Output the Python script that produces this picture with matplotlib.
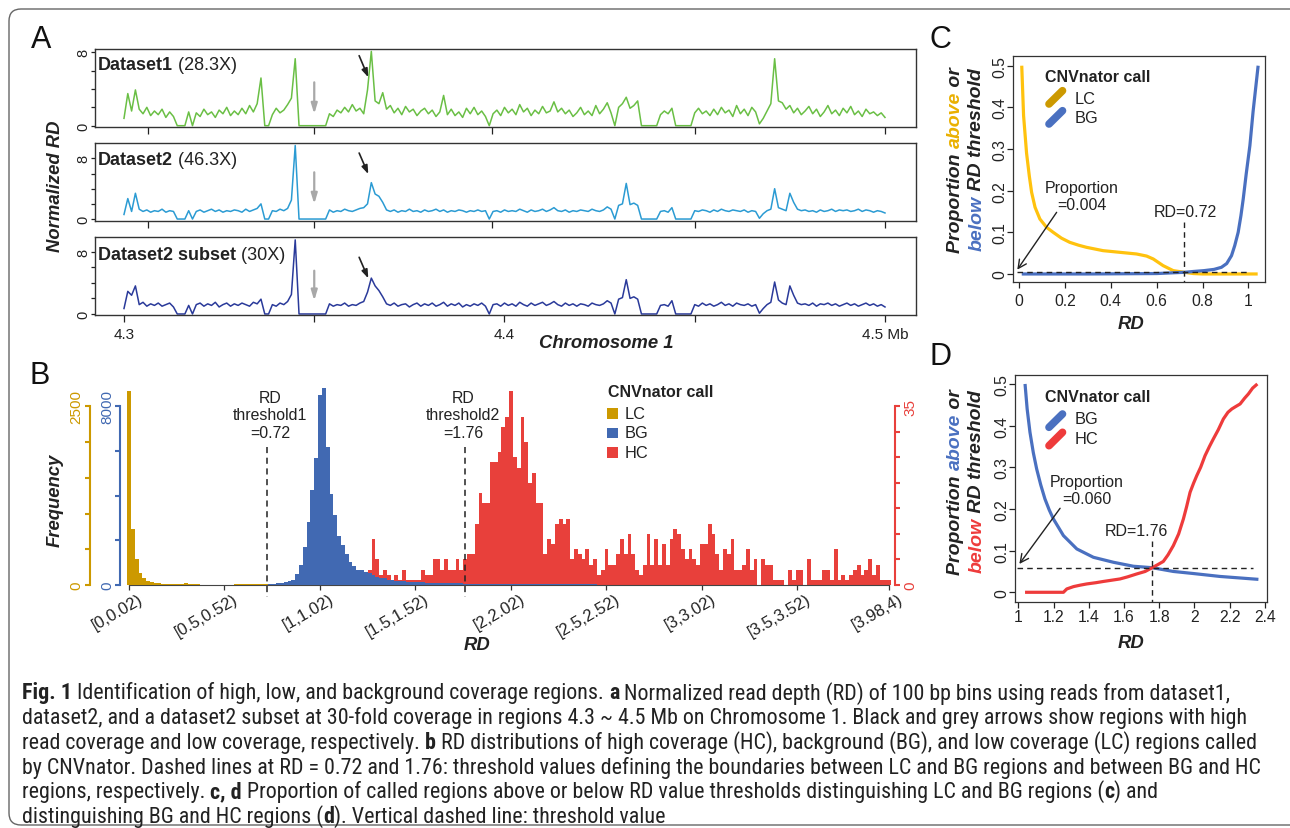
#!/usr/bin/python3
import numpy as np
import matplotlib
matplotlib.use("Agg")
import matplotlib.pyplot as plt
from matplotlib import font_manager
from matplotlib.patches import Rectangle, FancyBboxPatch
from matplotlib.lines import Line2D
from matplotlib.transforms import ScaledTranslation, IdentityTransform

##############################################################
# panel A : normalized RD on chr1 4.3-4.5 Mb (1 kb steps)
##############################################################
MB_START = 4.3
MB_STEP = 0.001
RD_DATASET1 = [
    0.8, 3.5, 1.6, 3.9, 1.8, 1.3, 2.0, 1.1, 1.6, 1.2,
    1.8, 0.9, 1.5, 1.0, 0, 0, 0, 1.5, 0, 1.4,
    1.0, 1.8, 1.2, 1.5, 0.9, 1.7, 1.3, 2.0, 1.1, 1.6,
    1.2, 1.9, 1.3, 2.2, 1.5, 2.4, 5.2, 0, 0, 1.2,
    1.9, 1.4, 1.7, 2.3, 3.0, 7.3, 0, 0, 0, 0,
    0, 0, 0, 0, 1.3, 1.0, 1.7, 1.4, 2.0, 1.5,
    2.3, 1.6, 1.9, 1.3, 3.9, 8.1, 2.7, 2.4, 3.6, 1.8,
    2.2, 1.4, 1.9, 1.2, 2.1, 1.5, 1.8, 1.1, 1.6, 1.9,
    1.3, 1.7, 1.0, 1.5, 3.3, 1.2, 1.8, 1.1, 1.5, 0.9,
    1.9, 1.3, 2.0, 1.2, 1.6, 1.0, 0, 1.3, 1.7, 1.1,
    2.0, 1.4, 1.8, 1.2, 2.3, 1.5, 1.9, 1.1, 1.7, 1.3,
    2.1, 1.4, 1.6, 2.6, 1.5, 1.9, 1.3, 1.7, 1.0, 1.4,
    2.0, 1.2, 1.6, 1.1, 2.2, 1.3, 1.8, 2.5, 1.4, 0,
    2.0, 2.4, 3.1, 1.9, 2.2, 2.7, 0, 0, 0, 0,
    0, 1.2, 1.6, 1.3, 1.9, 0, 0, 0, 0, 0,
    1.4, 1.9, 1.3, 1.6, 1.1, 1.8, 1.2, 2.0, 1.4, 1.7,
    1.0, 2.2, 1.3, 1.8, 1.1, 2.0, 1.5, 0.2, 0.8, 1.6,
    2.4, 7.3, 2.7, 2.5, 1.8, 2.2, 1.4, 1.9, 1.2, 1.6,
    2.1, 1.3, 1.8, 1.0, 1.5, 2.2, 1.3, 1.7, 1.1, 1.9,
    1.4, 2.1, 1.2, 1.6, 1.0, 1.8, 1.3, 1.5, 1.1, 1.4,
    0.9]
RD_DATASET2 = [
    0.6, 2.7, 1.0, 3.4, 1.3, 1.0, 1.2, 0.9, 1.1, 1.0,
    1.3, 0.9, 1.1, 1.0, 0, 0, 0, 1.1, 0, 1.0,
    1.2, 0.9, 1.1, 1.3, 1.0, 1.2, 0.9, 1.1, 1.0, 1.2,
    1.1, 0.9, 1.3, 1.0, 1.2, 1.4, 2.0, 0, 0, 1.1,
    1.0, 1.3, 1.1, 1.4, 2.5, 9.7, 0, 0, 0, 0,
    0, 0, 0, 0, 1.2, 0.9, 1.1, 1.0, 1.3, 1.1,
    1.0, 1.2, 1.4, 1.5, 2.0, 4.8, 3.3, 3.0, 2.2, 1.2,
    1.0, 1.2, 0.9, 1.1, 1.0, 1.3, 1.0, 1.1, 0.9, 1.2,
    1.0, 1.1, 1.3, 1.0, 1.2, 0.9, 1.1, 1.0, 1.2, 1.1,
    0.9, 1.1, 1.0, 1.2, 1.0, 1.1, 0, 1.0, 1.1, 0.9,
    1.2, 1.0, 1.1, 1.0, 1.3, 1.1, 0.9, 1.2, 1.0, 1.1,
    1.3, 1.0, 1.2, 1.5, 1.1, 1.0, 1.2, 0.9, 1.1, 1.0,
    1.2, 1.1, 1.0, 1.3, 1.1, 1.0, 1.2, 1.6, 1.3, 0,
    1.8, 2.0, 4.7, 1.9, 2.1, 1.8, 0, 0, 0, 0,
    0, 1.0, 1.1, 0.9, 1.5, 0, 0, 0, 0, 0,
    1.1, 1.0, 1.2, 1.1, 0.9, 1.2, 1.0, 1.3, 1.1, 1.0,
    1.2, 1.1, 1.0, 1.2, 0.9, 1.1, 1.0, 0.1, 0.7, 1.1,
    1.3, 4.0, 1.5, 1.3, 1.1, 3.4, 2.2, 1.3, 1.1, 1.2,
    1.0, 1.1, 0.9, 1.2, 1.0, 1.1, 1.3, 1.0, 1.2, 1.1,
    1.2, 1.0, 1.1, 1.3, 1.0, 1.2, 1.1, 0.9, 1.1, 1.0,
    0.8]
RD_SUBSET = [
    0.7, 2.9, 2.4, 3.6, 1.2, 1.5, 1.0, 1.3, 1.1, 1.4,
    1.0, 1.2, 1.4, 0.9, 0, 0, 0, 1.1, 0, 1.2,
    1.4, 1.0, 1.3, 1.1, 1.5, 0.9, 1.2, 1.4, 1.0, 1.3,
    1.1, 1.4, 1.2, 1.0, 1.5, 1.3, 1.9, 0, 0, 1.2,
    1.0, 1.4, 1.2, 1.6, 2.5, 9.5, 0, 0, 0, 0,
    0, 0, 0, 0, 1.3, 1.0, 1.2, 1.1, 1.4, 1.0,
    1.2, 1.1, 1.4, 1.6, 2.8, 4.6, 3.6, 3.0, 2.2, 1.3,
    1.1, 1.4, 1.0, 1.2, 1.3, 0.9, 1.2, 1.4, 1.0, 1.3,
    1.1, 1.4, 1.0, 1.2, 1.5, 1.0, 1.3, 1.1, 1.4, 0.9,
    1.2, 1.0, 1.3, 1.1, 1.4, 1.0, 0, 1.2, 1.3, 1.0,
    1.4, 1.1, 1.3, 1.0, 1.5, 1.2, 1.0, 1.4, 1.1, 1.3,
    1.5, 1.1, 1.3, 1.6, 1.2, 1.0, 1.4, 1.1, 1.3, 1.0,
    1.3, 1.2, 1.0, 1.4, 1.2, 1.1, 1.3, 1.7, 1.4, 0,
    1.9, 2.1, 4.4, 2.0, 2.2, 1.9, 0, 0, 0, 0,
    0, 1.1, 1.2, 1.0, 1.7, 0, 0, 0, 0, 0,
    1.2, 1.0, 1.4, 1.1, 1.3, 1.0, 1.2, 1.5, 1.1, 1.3,
    1.0, 1.4, 1.2, 1.1, 1.3, 1.0, 1.2, 0.1, 0.7, 1.2,
    1.5, 4.1, 1.8, 1.4, 1.2, 3.6, 2.4, 1.4, 1.2, 1.3,
    1.1, 1.4, 1.0, 1.3, 1.2, 1.4, 1.1, 1.3, 1.0, 1.2,
    1.4, 1.1, 1.3, 1.0, 1.2, 1.4, 1.1, 1.3, 1.0, 1.2,
    0.9]
TRACK_NAMES = ["Dataset1", "Dataset2", "Dataset2 subset"]
TRACK_DEPTH = [" (28.3X)", " (46.3X)", " (30X)"]

##############################################################
# panel B : RD histograms (bins of 0.02), bin index 0..199
##############################################################
BIN_TICKS = [0, 25, 50, 75, 100, 125, 150, 175, 199]
BIN_TICK_LABELS = ["[0,0.02)", "[0.5,0.52)", "[1,1.02)", "[1.5,1.52)", "[2,2.02)",
                   "[2.5,2.52)", "[3,3.02)", "[3.5,3.52)", "[3.98,4)"]
BIN_WIDTH = 0.02
THRESHOLDS = [0.72, 1.76]
LC_START = 0
LC_COUNTS = [
    2712, 783, 364, 168, 94, 56, 38, 28, 22, 18,
    15, 15, 12, 12, 10, 30, 10, 8, 8, 6,
    5, 5, 5, 5, 5, 5, 6, 6, 8, 10,
    12, 14, 15, 15, 15, 14, 12]
BG_START = 37
BG_COUNTS = [
    30, 45, 75, 90, 120, 165, 225, 480, 895, 1700,
    2805, 4240, 5690, 8520, 8820, 6200, 4070, 3140, 2200, 1800,
    1390, 1015, 865, 672, 670, 597, 537, 463, 373, 328,
    298, 240, 210, 180, 165, 165, 150, 150, 135, 120,
    115, 110, 105, 100, 95, 90, 90, 85, 80, 75,
    70, 65, 60, 60, 55, 50, 50, 45, 45, 40,
    40, 38, 36, 35, 34, 33, 32, 31, 30, 30,
    29, 28, 28, 27, 27, 26, 26, 25, 25, 25,
    24, 24, 24, 23, 23, 23, 22, 22, 22, 22,
    21, 21, 21, 21, 20, 20, 20, 20, 20, 20,
    20, 20, 20, 20, 20, 20, 20, 20, 20, 20,
    20, 20, 20, 20, 20, 20, 20, 20, 20, 20,
    20, 20, 20, 20, 20, 20, 20, 20, 20, 20,
    20, 20, 20, 20, 20, 20, 20, 20, 20, 20,
    20, 20, 20, 20, 20, 20, 20, 20, 20, 20,
    20, 20, 20, 20, 20, 20, 20, 20, 20, 20,
    20, 20, 20]
HC_START = 63
HC_COUNTS = [
    3, 9, 5, 2, 3, 2, 1, 2, 1, 3,
    1, 1, 1, 1, 3, 2, 2, 5, 5, 3,
    5, 3, 3, 5, 3, 5, 6, 6, 12, 18,
    16, 16, 24, 24, 26, 31, 33, 38, 25, 23,
    33, 28, 20, 22, 16, 16, 6, 9, 8, 12,
    13, 12, 13, 5, 7, 6, 5, 7, 4, 5,
    2, 3, 7, 4, 4, 6, 9, 6, 10, 6,
    3, 2, 4, 10, 4, 9, 4, 8, 4, 9,
    11, 10, 7, 5, 7, 5, 4, 8, 8, 12,
    10, 6, 3, 7, 6, 9, 3, 3, 4, 7,
    3, 5, 0, 5, 4, 4, 1, 1, 1, 0,
    3, 1, 3, 3, 0, 5, 1, 1, 1, 3,
    3, 1, 7, 1, 2, 1, 2, 3, 4, 2,
    3, 5, 2, 4, 1, 1, 1]

##############################################################
# panel C : proportion above (LC) / below (BG) RD threshold
##############################################################
C_LC_RD = [0.012, 0.02, 0.033, 0.045, 0.055, 0.07, 0.091, 0.12, 0.149, 0.185, 0.221, 0.26,
           0.294, 0.366, 0.439, 0.512, 0.556, 0.585, 0.628, 0.672, 0.72, 0.76, 0.8, 1.04]
C_LC_PROP = [0.5, 0.38, 0.29, 0.235, 0.196, 0.16, 0.132, 0.112, 0.1, 0.086, 0.076, 0.069,
             0.064, 0.056, 0.052, 0.048, 0.043, 0.036, 0.02, 0.008, 0.004, 0.001, 0.0, 0.0]
C_BG_RD = [0.012, 0.3, 0.6, 0.72, 0.76, 0.806, 0.85, 0.882, 0.905, 0.926, 0.94, 0.955,
           0.967, 0.977, 0.99, 1.006, 1.02, 1.042]
C_BG_PROP = [0.0, 0.0, 0.001, 0.004, 0.006, 0.008, 0.011, 0.016, 0.025, 0.044, 0.068, 0.1,
             0.14, 0.18, 0.24, 0.308, 0.39, 0.5]

##############################################################
# panel D : proportion above (BG) / below (HC) RD threshold
##############################################################
D_BG_RD = [1.038, 1.05, 1.066, 1.085, 1.104, 1.127, 1.151, 1.175, 1.199, 1.256, 1.332,
           1.426, 1.54, 1.653, 1.76, 1.88, 1.994, 2.145, 2.363]
D_BG_PROP = [0.5, 0.44, 0.384, 0.335, 0.296, 0.258, 0.224, 0.198, 0.176, 0.136, 0.104,
             0.084, 0.072, 0.0625, 0.059, 0.05, 0.045, 0.038, 0.031]
D_HC_RD = [1.038, 1.256, 1.275, 1.313, 1.35, 1.388, 1.44, 1.483, 1.53, 1.577, 1.62, 1.672,
           1.72, 1.76, 1.79, 1.823, 1.85, 1.88, 1.91, 1.937, 1.955, 1.975, 1.995, 2.013,
           2.035, 2.06, 2.085, 2.107, 2.135, 2.164, 2.19, 2.212, 2.235, 2.259, 2.285,
           2.306, 2.33, 2.357]
D_HC_PROP = [0.0, 0.0, 0.008, 0.0136, 0.017, 0.02, 0.023, 0.026, 0.029, 0.032, 0.037, 0.044,
             0.05, 0.059, 0.066, 0.074, 0.09, 0.112, 0.14, 0.176, 0.205, 0.24, 0.262, 0.28,
             0.3, 0.328, 0.35, 0.368, 0.39, 0.416, 0.432, 0.44, 0.446, 0.452, 0.466,
             0.476, 0.49, 0.5]

# colours
GREEN = "#6abf45"
LBLUE = "#2b9bd3"
DBLUE = "#2a3a9a"
LC_GOLD = "#cc9900"
BG_BLUE = "#4169b2"
HC_RED = "#e8403b"
C_YELLOW = "#ffc20e"
CURVE_BLUE = "#4a70c0"
CURVE_RED = "#ee3b3b"
INK = "#222222"

W, H = 1290, 829
plt.rcParams['font.family'] = ['Liberation Sans', 'DejaVu Sans']
fig = plt.figure(figsize=(W / 100, H / 100), dpi=100)
renderer = fig.canvas.get_renderer()


def box(l, t, r, b):
    return [l / W, 1 - b / H, (r - l) / W, (b - t) / H]


def ftext(x, y, s, **kw):
    return fig.text(x / W, 1 - y / H, s, **kw)


def advance(s, size, fam, st):
    t = fig.text(0, 0, s + "x", fontsize=size, family=fam,
                 fontweight=st.get('weight', 'normal'), fontstyle=st.get('style', 'normal'))
    w1 = t.get_window_extent(renderer).width
    t.set_text("x")
    w2 = t.get_window_extent(renderer).width
    t.remove()
    return w1 - w2


def rich(x, y, parts, size, rot=0, center=False, va='baseline', fam=None, measure=False):
    fam = fam or plt.rcParams['font.family']
    advs = [advance(s, size, fam, st) for s, st in parts]
    total = sum(advs)
    if measure:
        return total
    pos = -total / 2 if center else 0
    for (s, st), a in zip(parts, advs):
        if rot == 0:
            px, py = x + pos, y
        else:
            px, py = x, y - pos
        ftext(px, py, s, fontsize=size, family=fam, rotation=rot, rotation_mode='anchor',
              ha='left', va=va, color=st.get('color', INK),
              fontweight=st.get('weight', 'normal'), fontstyle=st.get('style', 'normal'))
        pos += a
    return total


BI = dict(weight='bold', style='italic')

# frame round everything
frame = FancyBboxPatch((9, H - 826), 1300, 816, boxstyle='round,pad=0,rounding_size=12',
                       transform=IdentityTransform(), fill=False, ec='#666666', lw=1.0)
fig.add_artist(frame)

##############################################################
# panel A
##############################################################
a_boxes = [(50, 127.7), (144, 221.7), (238, 316)]
a_ylims = [(-0.11, 8.36), (-0.22, 10.03), (-0.13, 9.87)]
a_xticks = [[4.3063, 4.35, 4.3967, 4.45, 4.5], [4.3063, 4.35, 4.3967, 4.45, 4.5],
            [4.3, 4.35, 4.4, 4.45, 4.5]]
a_label_y = [65, 160, 255]
grey_arrow = [(0.571, 0.163), (0.623, 0.215), (0.568, 0.183)]
black_arrow = [(0.914, 0.636), (0.871, 0.6), (0.74, 0.47)]
tracks = [RD_DATASET1, RD_DATASET2, RD_SUBSET]
colors = [GREEN, LBLUE, DBLUE]

for k in range(3):
    top, bot = a_boxes[k]
    ax = fig.add_axes(box(95, top, 916, bot))
    vals = np.array(tracks[k])
    mb = MB_START + MB_STEP * np.arange(len(vals))
    ax.plot(mb, vals, color=colors[k], lw=1.1)
    ax.set_xlim(4.29238, 4.50815)
    ax.set_ylim(*a_ylims[k])
    for sp in ax.spines.values():
        sp.set_linewidth(1.0)
        sp.set_color('#333333')
    ax.set_yticks([0, 2, 4, 6, 8])
    ax.set_yticklabels(['0', '', '', '', '8'])
    ax.tick_params(axis='y', direction='out', length=3, width=0.9, pad=0.5,
                   labelsize=10.5, labelrotation=90, colors=INK)
    for lab in ax.get_yticklabels():
        lab.set_va('center')
    ax.set_xticks(a_xticks[k])
    if k == 2:
        ax.set_xticklabels(['4.3', '', '4.4', '', '4.5 Mb'])
    else:
        ax.set_xticklabels([])
    ax.tick_params(axis='x', direction='out', length=5, width=0.9, pad=3.6,
                   labelsize=11, colors=INK)
    tr = ax.get_xaxis_transform()
    g0, g1 = grey_arrow[k]
    ax.annotate('', xy=(4.35, g1), xytext=(4.35, g0), xycoords=tr, textcoords=tr,
                arrowprops=dict(arrowstyle='-|>,head_length=0.6,head_width=0.18',
                                color='#a8a8a8', lw=1.6, shrinkA=0, shrinkB=0))
    b0, b1 = black_arrow[k]
    ax.annotate('', xy=(4.3642, b1), xytext=(4.3618, b0), xycoords=tr, textcoords=tr,
                arrowprops=dict(arrowstyle='-|>,head_length=0.5,head_width=0.18',
                                color=INK, lw=1.2, shrinkA=0, shrinkB=0))
    rich(98, a_label_y[k] + 5, [(TRACK_NAMES[k], dict(weight='bold')), (TRACK_DEPTH[k], {})], 13)

ftext(55.5, 186, "Normalized RD", rotation=90, ha='center', va='center', fontsize=13.3,
      fontweight='bold', fontstyle='italic', color=INK)
ftext(606, 343, "Chromosome 1", ha='center', va='center', fontsize=13.3,
      fontweight='bold', fontstyle='italic', color=INK)

##############################################################
# panel B
##############################################################
ax_hc = fig.add_axes(box(126.7, 385, 894.9, 586))
ax_hc.bar(HC_START + np.arange(len(HC_COUNTS)), HC_COUNTS, width=1.0, color=HC_RED, lw=0)
ax_bg = ax_hc.twinx()
ax_bg.bar(BG_START + np.arange(len(BG_COUNTS)), BG_COUNTS, width=1.0, color=BG_BLUE, lw=0)
ax_lc = ax_hc.twinx()
ax_lc.bar(LC_START + np.arange(len(LC_COUNTS)), LC_COUNTS, width=1.0, color=LC_GOLD, lw=0)
ax_hc.set_xlim(-0.6, 200.5)
ax_hc.set_ylim(0, 39.37)
ax_bg.set_ylim(0, 8998)
ax_lc.set_ylim(0, 2812)

ax_hc.yaxis.tick_right()
ax_bg.yaxis.tick_left()
ax_lc.yaxis.tick_left()
for a in (ax_hc, ax_bg, ax_lc):
    a.spines['top'].set_visible(False)
ax_hc.spines['left'].set_visible(False)
for a in (ax_bg, ax_lc):
    a.spines['right'].set_visible(False)
    a.spines['bottom'].set_visible(False)

ax_hc.spines['right'].set_color(HC_RED)
ax_hc.spines['right'].set_linewidth(1.5)
ax_hc.spines['right'].set_bounds(0, 35)
ax_hc.set_yticks(range(0, 36, 5))
ax_hc.set_yticklabels(['0', '', '', '', '', '', '', '35'])
ax_hc.tick_params(axis='y', colors=HC_RED, length=3.6, width=1.5, pad=2.6,
                  labelsize=11, labelrotation=90)

ax_bg.spines['left'].set_color(BG_BLUE)
ax_bg.spines['left'].set_linewidth(1.5)
ax_bg.spines['left'].set_position(('outward', 4.8))
ax_bg.spines['left'].set_bounds(0, 8000)
ax_bg.set_yticks(range(0, 8001, 2000))
ax_bg.set_yticklabels(['0', '', '', '', '8000'])
ax_bg.tick_params(axis='y', colors=BG_BLUE, length=3.6, width=1.5, pad=0.3,
                  labelsize=11, labelrotation=90)

ax_lc.spines['left'].set_color(LC_GOLD)
ax_lc.spines['left'].set_linewidth(1.5)
ax_lc.spines['left'].set_position(('outward', 26.4))
ax_lc.spines['left'].set_bounds(0, 2500)
ax_lc.set_yticks(range(0, 2501, 500))
ax_lc.set_yticklabels(['0', '', '', '', '', '2500'])
ax_lc.tick_params(axis='y', colors=LC_GOLD, length=3.6, width=1.5, pad=1.4,
                  labelsize=11, labelrotation=90)
for a in (ax_hc, ax_bg, ax_lc):
    for lab in a.get_yticklabels():
        lab.set_va('center')

ax_hc.spines['bottom'].set_bounds(0, 199)
ax_hc.spines['bottom'].set_color('#444444')
ax_hc.spines['bottom'].set_linewidth(0.8)
ax_hc.set_xticks(BIN_TICKS)
ax_hc.set_xticklabels([])
ax_hc.tick_params(axis='x', length=3.6, width=0.9, colors='#333333')
lab_tr = ax_hc.get_xaxis_transform() + ScaledTranslation(0.09, -0.06, fig.dpi_scale_trans)
for b, lab in zip(BIN_TICKS, BIN_TICK_LABELS):
    ax_hc.text(b, 0, lab, transform=lab_tr, rotation=30, rotation_mode='anchor',
               ha='right', va='top', fontsize=12, color=INK)

thr_text = ["RD\nthreshold1\n=0.72", "RD\nthreshold2\n=1.76"]
thr_dx = [0.9, -0.6]
for thr, txt, dx in zip(THRESHOLDS, thr_text, thr_dx):
    xb = thr / BIN_WIDTH
    ax_lc.plot([xb, xb], [0.687, -0.06], transform=ax_lc.get_xaxis_transform(),
               color=INK, lw=1.1, ls=(0, (4, 3)), clip_on=False)
    ax_lc.text(xb + dx, 0.846, txt, transform=ax_lc.get_xaxis_transform(), ha='center',
               va='center', fontsize=11.4, linespacing=1.2, color=INK)

ftext(55.5, 500.7, "Frequency", rotation=90, ha='center', va='center', fontsize=13.3,
      fontweight='bold', fontstyle='italic', color=INK)
ftext(477, 645, "RD", ha='center', va='center', fontsize=13.3, fontweight='bold',
      fontstyle='italic', color=INK)

ftext(607.7, 393, "CNVnator call", ha='left', va='center', fontsize=11.5,
      fontweight='bold', color=INK)
for name, col, yc in zip(["LC", "BG", "HC"], [LC_GOLD, BG_BLUE, HC_RED], [414.3, 434, 453.5]):
    fig.add_artist(Rectangle(((606.7) / W, 1 - (yc + 5.3) / H), 10.8 / W, 10.6 / H,
                             transform=fig.transFigure, color=col, lw=0))
    ftext(624.3, yc, name, ha='left', va='center', fontsize=11.8, color=INK)

##############################################################
# panels C and D
##############################################################


def curve_axes(l, t, r, b, xlim, ylim, xticks, xlabs, xpad):
    ax = fig.add_axes(box(l, t, r, b))
    ax.set_xlim(*xlim)
    ax.set_ylim(*ylim)
    for sp in ax.spines.values():
        sp.set_linewidth(0.9)
        sp.set_color('#333333')
    ax.set_xticks(xticks)
    ax.set_xticklabels(xlabs)
    ax.set_yticks([0, 0.1, 0.2, 0.3, 0.4, 0.5])
    ax.set_yticklabels(['0', '0.1', '0.2', '0.3', '0.4', '0.5'])
    ax.tick_params(axis='x', direction='out', length=4, width=0.9, pad=xpad,
                   labelsize=11.3, colors=INK)
    ax.tick_params(axis='y', direction='out', length=4, width=0.9, pad=0.3,
                   labelsize=11.3, labelrotation=90, colors=INK)
    for lab in ax.get_yticklabels():
        lab.set_va('center')
    return ax


ax_c = curve_axes(1013.3, 56.7, 1265, 283.3, (-0.0248, 1.0719), (-0.02, 0.524),
                  [0, 0.2, 0.4, 0.6, 0.8, 1], ['0', '0.2', '0.4', '0.6', '0.8', '1'], 3.6)
ax_c.plot(C_LC_RD, C_LC_PROP, color=C_YELLOW, lw=2.3, solid_capstyle='butt')
ax_c.plot(C_BG_RD, C_BG_PROP, color=CURVE_BLUE, lw=2.3, solid_capstyle='butt')
ax_c.plot([-0.01, 1.0], [0.004, 0.004], color=INK, lw=1.0, ls=(0, (4, 3)))
ax_c.plot([THRESHOLDS[0], THRESHOLDS[0]], [0.124, -0.02], color=INK, lw=1.0, ls=(0, (4, 3)))
ax_c.text(0.273, 0.188, "Proportion\n=0.004", ha='center', va='center', fontsize=11.5,
          linespacing=1.15, color=INK)
ax_c.text(0.723, 0.15, "RD=0.72", ha='center', va='center', fontsize=11.5, color=INK)
ax_c.annotate('', xy=(-0.0074, 0.0103), xytext=(0.164, 0.148),
              arrowprops=dict(arrowstyle='->,head_length=0.6,head_width=0.3', color=INK,
                              lw=1.0, shrinkA=0, shrinkB=0))

ax_d = curve_axes(1015, 376, 1266.7, 602.7, (0.981, 2.41), (-0.0226, 0.5215),
                  [1, 1.2, 1.4, 1.6, 1.8, 2, 2.2, 2.4],
                  ['1', '1.2', '1.4', '1.6', '1.8', '2', '2.2', '2.4'], 1.0)
ax_d.plot(D_BG_RD, D_BG_PROP, color=CURVE_BLUE, lw=2.3, solid_capstyle='butt')
ax_d.plot(D_HC_RD, D_HC_PROP, color=CURVE_RED, lw=2.3, solid_capstyle='butt')
ax_d.plot([0.99, 2.335], [0.058, 0.058], color=INK, lw=1.0, ls=(0, (4, 3)))
ax_d.plot([THRESHOLDS[1], THRESHOLDS[1]], [0.124, -0.0226], color=INK, lw=1.0, ls=(0, (4, 3)))
ax_d.text(1.388, 0.2455, "Proportion\n=0.060", ha='center', va='center', fontsize=11.5,
          linespacing=1.15, color=INK)
ax_d.text(1.672, 0.148, "RD=1.76", ha='center', va='center', fontsize=11.5, color=INK)
ax_d.annotate('', xy=(1.0057, 0.068), xytext=(1.237, 0.2016),
              arrowprops=dict(arrowstyle='->,head_length=0.6,head_width=0.3', color=INK,
                              lw=1.0, shrinkA=0, shrinkB=0))

for yc in (325, 643):
    ftext(1131, yc, "RD", ha='center', va='center', fontsize=13.3, fontweight='bold',
          fontstyle='italic', color=INK)

# legends of C and D
leg_cd = [
    (77.3, [("LC", LC_GOLD, 99.3, (105, 91.7)), ("BG", CURVE_BLUE, 118.3, (125, 111.7))]),
    (397.3, [("BG", CURVE_BLUE, 420, (428.3, 415)), ("HC", CURVE_RED, 439.3, (446.7, 433.3))]),
]
for ty, items in leg_cd:
    ftext(1045, ty, "CNVnator call", ha='left', va='center', fontsize=11.5,
          fontweight='bold', color=INK)
    for name, col, ly, (y0, y1) in items:
        fig.add_artist(Line2D([1049 / W, 1062.5 / W], [1 - y0 / H, 1 - y1 / H],
                              transform=fig.transFigure, color=col, lw=5.5,
                              solid_capstyle='round'))
        ftext(1075, ly, name, ha='left', va='center', fontsize=11.8, color=INK)

# two-line, two-colour y labels
ylab_cd = [(160, "#eab000", CURVE_BLUE), (481.7, CURVE_BLUE, CURVE_RED)]
for yc, c_above, c_below in ylab_cd:
    rich(955, yc, [("Proportion ", BI), ("above", dict(BI, color=c_above)), (" or", BI)],
         14, rot=90, center=True, va='center')
    rich(976.7, yc, [("below", dict(BI, color=c_below)), (" RD threshold", BI)],
         14, rot=90, center=True, va='center')

# panel letters
for s, x, y in [("A", 41, 40), ("B", 40, 376), ("C", 940, 40), ("D", 940, 357)]:
    ftext(x, y, s, ha='center', va='center', fontsize=22, color='#111111')

##############################################################
# caption
##############################################################
BOLD = dict(weight='bold')
REG = {}
CAPTION = [
    [("Fig. 1", BOLD), (" Identification of high, low, and background coverage regions. ", REG),
     ("a", BOLD), (" Normalized read depth (RD) of 100 bp bins using reads from dataset1,", REG)],
    [("dataset2, and a dataset2 subset at 30-fold coverage in regions 4.3 ~ 4.5 Mb on "
      "Chromosome 1. Black and grey arrows show regions with high", REG)],
    [("read coverage and low coverage, respectively. ", REG), ("b", BOLD),
     (" RD distributions of high coverage (HC), background (BG), and low coverage (LC) "
      "regions called", REG)],
    [("by CNVnator. Dashed lines at RD = 0.72 and 1.76: threshold values defining the "
      "boundaries between LC and BG regions and between BG and HC", REG)],
    [("regions, respectively. ", REG), ("c, d", BOLD),
     (" Proportion of called regions above or below RD value thresholds distinguishing LC "
      "and BG regions (", REG), ("c", BOLD), (") and", REG)],
    [("distinguishing BG and HC regions (", REG), ("d", BOLD),
     ("). Vertical dashed line: threshold value", REG)],
]
CAPTION_WIDTHS = [1240, 1228, 1240, 1240]
avail = {f.name for f in font_manager.fontManager.ttflist}
cap_fam = [f for f in ['Liberation Sans Narrow', 'Roboto Condensed', 'Open Sans Condensed']
           if f in avail] + ['Liberation Sans', 'DejaVu Sans']
sizes = [12 * tw / rich(22, 0, line, 12, fam=cap_fam, measure=True)
         for line, tw in zip(CAPTION[:4], CAPTION_WIDTHS)]
cap_size = min(sizes)
for i, line in enumerate(CAPTION):
    rich(22, 699.5 + 24.7 * i, line, cap_size, fam=cap_fam)

fig.savefig("out.png", dpi=100)
